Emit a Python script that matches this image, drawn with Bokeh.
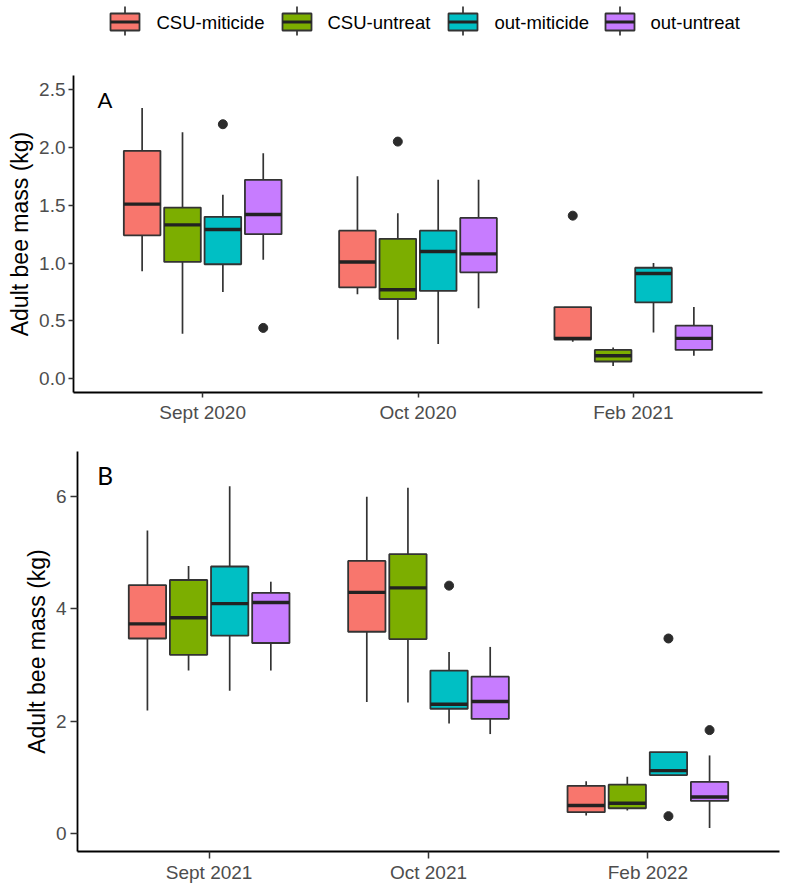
from bokeh.plotting import figure
from bokeh.models import ColumnDataSource, FactorRange, Range1d, FixedTicker, Label
from bokeh.transform import dodge
from bokeh.embed import file_html
from bokeh.resources import INLINE
from bokeh.core.properties import value

# ---------------- data ----------------
groups = ["CSU-miticide", "CSU-untreat", "out-miticide", "out-untreat"]
colors = ["#F8766D", "#7CAE00", "#00BFC4", "#C77CFF"]

# Panel A (rows = groups, columns = dates)
a_dates = ["Sept 2020", "Oct 2020", "Feb 2021"]
a_lo  = [[0.93, 0.73, 0.32], [0.39, 0.34, 0.11], [0.75, 0.30, 0.40], [1.03, 0.61, 0.20]]
a_q1  = [[1.24, 0.79, 0.34], [1.01, 0.69, 0.15], [0.99, 0.76, 0.66], [1.25, 0.92, 0.25]]
a_med = [[1.51, 1.01, 0.35], [1.33, 0.77, 0.20], [1.29, 1.10, 0.91], [1.42, 1.08, 0.35]]
a_q3  = [[1.97, 1.28, 0.62], [1.48, 1.21, 0.25], [1.40, 1.28, 0.96], [1.72, 1.39, 0.46]]
a_hi  = [[2.34, 1.75, 0.62], [2.13, 1.43, 0.27], [1.59, 1.72, 1.00], [1.95, 1.72, 0.62]]
a_out_date  = ["Sept 2020", "Sept 2020", "Oct 2020", "Feb 2021"]
a_out_group = ["out-miticide", "out-untreat", "CSU-untreat", "CSU-miticide"]
a_out_val   = [2.20, 0.44, 2.05, 1.41]
a_yticks  = [0, 0.5, 1, 1.5, 2, 2.5]
a_ylabels = ["0.0", "0.5", "1.0", "1.5", "2.0", "2.5"]

# Panel B
b_dates = ["Sept 2021", "Oct 2021", "Feb 2022"]
b_lo  = [[2.19, 2.34, 0.32], [2.90, 2.33, 0.41], [2.54, 1.96, 1.04], [2.90, 1.77, 0.10]]
b_q1  = [[3.47, 3.59, 0.38], [3.18, 3.46, 0.45], [3.52, 2.22, 1.04], [3.39, 2.04, 0.58]]
b_med = [[3.73, 4.29, 0.50], [3.84, 4.37, 0.54], [4.09, 2.30, 1.12], [4.11, 2.35, 0.65]]
b_q3  = [[4.42, 4.85, 0.85], [4.51, 4.97, 0.87], [4.75, 2.90, 1.45], [4.28, 2.79, 0.92]]
b_hi  = [[5.39, 5.99, 0.93], [4.76, 6.15, 1.01], [6.18, 3.23, 1.45], [4.48, 3.32, 1.39]]
b_out_date  = ["Oct 2021", "Feb 2022", "Feb 2022", "Feb 2022"]
b_out_group = ["out-miticide", "out-miticide", "out-miticide", "out-untreat"]
b_out_val   = [4.41, 3.47, 0.31, 1.84]
b_yticks  = [0, 2, 4, 6]
b_ylabels = ["0", "2", "4", "6"]

# ---------------- styling ----------------
FONT = "Liberation Sans"
DARK = "#333333"
DODGE = 0.1875
BOX_W = 0.17
W = 786


def make_panel(dates, lo, q1, med, q3, hi, out_date, out_group, out_val,
               yticks, ylabels, yr, letter, letter_xy, letter_size,
               height, borders, tick_out, lab_standoff, xlab_standoff):
    p = figure(width=W, height=height,
               x_range=FactorRange(*dates, range_padding=0.1, range_padding_units="absolute"),
               y_range=Range1d(*yr),
               output_backend="svg", toolbar_location=None,
               min_border_left=borders[0], min_border_right=borders[1],
               min_border_top=borders[2], min_border_bottom=borders[3])
    p.grid.visible = False
    p.outline_line_color = None
    p.background_fill_color = "white"
    p.border_fill_color = "white"

    for j, g in enumerate(groups):
        off = (j - 1.5) * DODGE
        src = ColumnDataSource(dict(date=dates, lo=lo[j], q1=q1[j], med=med[j],
                                    q3=q3[j], hi=hi[j]))
        xd = dodge("date", off, range=p.x_range)
        p.segment(x0=xd, y0="lo", x1=xd, y1="hi", source=src,
                  line_color=DARK, line_width=1.7)
        p.vbar(x=xd, width=BOX_W, bottom="q1", top="q3", source=src,
               fill_color=colors[j], line_color=DARK, line_width=1.8)
        p.segment(x0=dodge("date", off - BOX_W / 2, range=p.x_range), y0="med",
                  x1=dodge("date", off + BOX_W / 2, range=p.x_range), y1="med",
                  source=src, line_color="#222222", line_width=3.4)
        od = [d for d, gg in zip(out_date, out_group) if gg == g]
        ov = [v for v, gg in zip(out_val, out_group) if gg == g]
        if od:
            osrc = ColumnDataSource(dict(date=od, val=ov))
            p.scatter(x=dodge("date", off, range=p.x_range), y="val", source=osrc,
                      size=9, fill_color="#2b2b2b", line_color="#2b2b2b")

    for ax in (p.xaxis[0], p.yaxis[0]):
        ax.axis_line_color = "black"
        ax.axis_line_width = 1.8
        ax.major_tick_line_color = DARK
        ax.major_tick_line_width = 1.5
        ax.major_tick_out = tick_out
        ax.major_tick_in = 0
        ax.minor_tick_out = 0
        ax.minor_tick_in = 0
        ax.major_label_text_font = FONT
        ax.major_label_text_font_size = "19px"
        ax.major_label_text_color = "#4D4D4D"
    p.xaxis.major_label_standoff = xlab_standoff
    p.yaxis.major_label_standoff = lab_standoff
    p.yaxis.ticker = FixedTicker(ticks=yticks)
    p.yaxis.major_label_overrides = {t: s for t, s in zip(yticks, ylabels)}
    p.yaxis.axis_label = "Adult bee mass (kg)"
    p.yaxis.axis_label_text_font = FONT
    p.yaxis.axis_label_text_font_style = "normal"
    p.yaxis.axis_label_text_font_size = "23px"
    p.yaxis.axis_label_text_color = "black"
    p.yaxis.axis_label_standoff = 3

    p.add_layout(Label(x=letter_xy[0], y=letter_xy[1], text=letter,
                       text_font="Lato", text_font_size=letter_size,
                       text_color="black", text_align="left",
                       text_baseline="alphabetic"))
    return p


# ---------------- legend strip ----------------
LEG_H = 50
leg = figure(width=W, height=LEG_H, x_range=Range1d(0, W), y_range=Range1d(LEG_H, 0),
             output_backend="svg", toolbar_location=None,
             x_axis_location=None, y_axis_location=None, min_border=0)
leg.grid.visible = False
leg.outline_line_color = None
key_left = [110, 282, 448, 605]
text_left = [156, 327, 494, 650]
key_w = 29
kc = [k + key_w / 2 for k in key_left]
kr = [k + key_w for k in key_left]
leg.segment(x0=kc, y0=[6] * 4, x1=kc, y1=[35] * 4, line_color=DARK, line_width=1.7)
leg.quad(left=key_left, right=kr, top=[13] * 4, bottom=[30] * 4,
         fill_color=colors, line_color=DARK, line_width=1.8)
leg.segment(x0=key_left, y0=[21.5] * 4, x1=kr, y1=[21.5] * 4, line_color="#222222", line_width=3.2)
leg.text(x=text_left, y=[21.5] * 4, text=groups, text_baseline="middle", text_align="left",
         text_font=value(FONT), text_font_size="18.5px", text_color="black")

pa = make_panel(a_dates, a_lo, a_q1, a_med, a_q3, a_hi, a_out_date, a_out_group, a_out_val,
                a_yticks, a_ylabels, (-0.118, 2.621), "A", (0.0115, 2.414), "22px",
                380, (73, 24, 25, 38), 5, 3, 4)
pb = make_panel(b_dates, b_lo, b_q1, b_med, b_q3, b_hi, b_out_date, b_out_group, b_out_val,
                b_yticks, b_ylabels, (-0.319, 6.796), "B", (-0.01, 6.37), "24.5px",
                455, (77, 7, 21, 32), 7, 4, 3)

open("out.html", "w").write(file_html([leg, pa, pb], INLINE))
